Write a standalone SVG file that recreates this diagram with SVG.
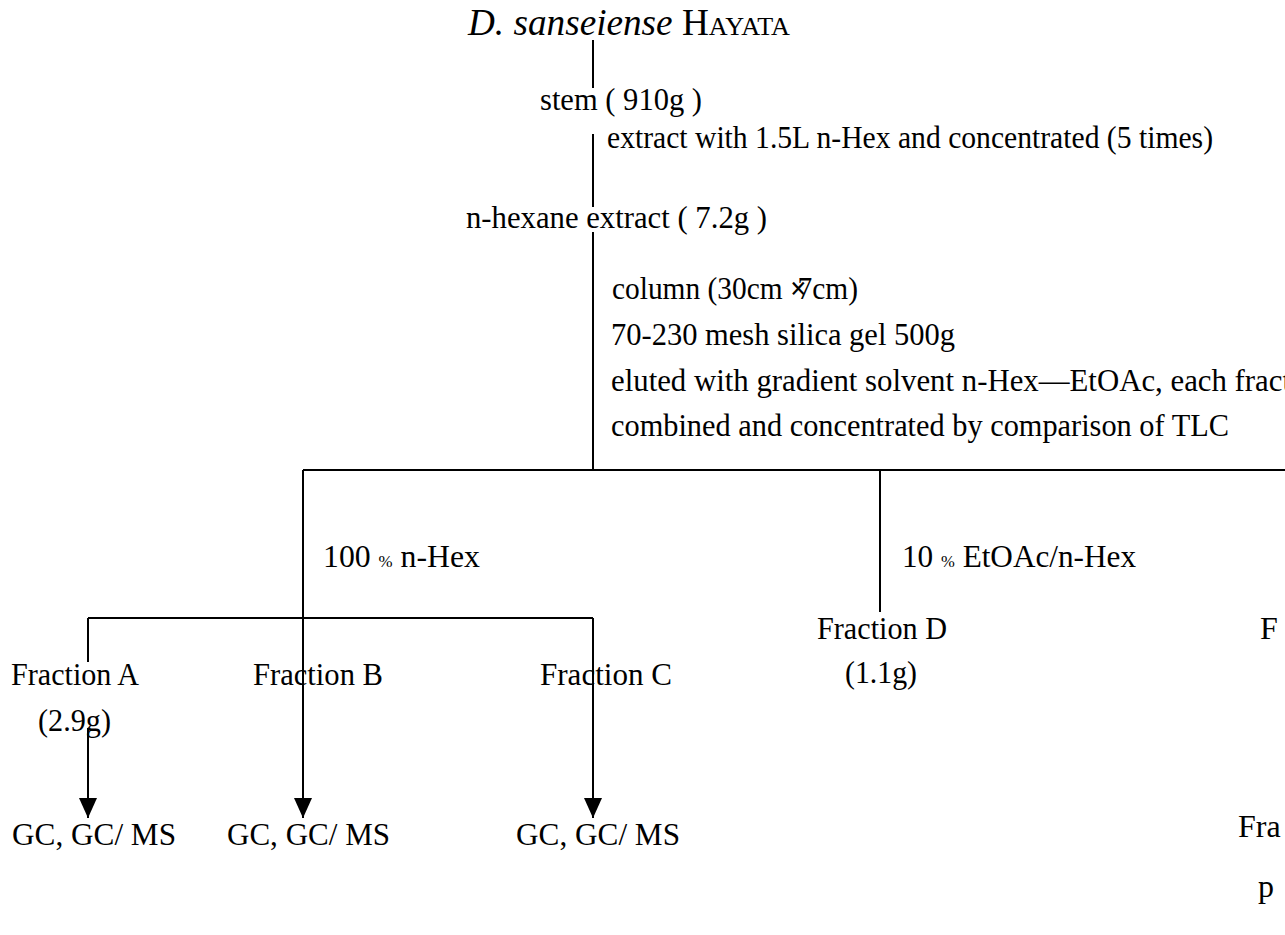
<svg xmlns="http://www.w3.org/2000/svg" width="1285" height="935" viewBox="0 0 1285 935">
  <style>
    text { font-family: "Liberation Serif", "Times New Roman", serif; font-size: 32px; fill: #000; }
    .title { font-size: 37px; }
    .it { font-style: italic; }
    .pct { font-size: 17px; }
    .ln { stroke: #000; stroke-width: 2; fill: none; }
  </style>
  <defs>
    <marker id="arrow" viewBox="0 0 20 20" refX="20" refY="10" markerWidth="20" markerHeight="20" markerUnits="userSpaceOnUse" orient="auto">
      <path d="M0,1 L20,10 L0,19 Z" fill="#000"/>
    </marker>
  </defs>

  <!-- connectors -->
  <g id="connectors" class="ln">
    <line x1="593" y1="40" x2="593" y2="88"/>
    <line x1="593" y1="134" x2="593" y2="207"/>
    <line x1="593" y1="232" x2="593" y2="470"/>
    <line x1="303" y1="470" x2="1285" y2="470"/>
    <line x1="880" y1="470" x2="880" y2="612"/>
    <line x1="303" y1="470" x2="303" y2="618"/>
    <line x1="88" y1="618" x2="593" y2="618"/>
    <line x1="88" y1="618" x2="88" y2="662"/>
    <line x1="88" y1="728" x2="88" y2="818" marker-end="url(#arrow)"/>
    <line x1="303" y1="618" x2="303" y2="818" marker-end="url(#arrow)"/>
    <line x1="593" y1="618" x2="593" y2="818" marker-end="url(#arrow)"/>
  </g>

  <!-- plant material and extraction -->
  <g id="plant">
    <text class="title" x="468" y="35" textLength="322" lengthAdjust="spacingAndGlyphs"><tspan class="it">D. sanseiense</tspan> H<tspan font-size="26">AYATA</tspan></text>
  </g>
  <g id="stem">
    <text x="540" y="110" textLength="162" lengthAdjust="spacingAndGlyphs">stem ( 910g )</text>
  </g>
  <g id="extraction-step">
    <text x="607" y="148" textLength="606" lengthAdjust="spacingAndGlyphs">extract with 1.5L n-Hex and concentrated (5 times)</text>
  </g>
  <g id="hexane-extract">
    <text x="466" y="228" textLength="301" lengthAdjust="spacingAndGlyphs">n-hexane extract ( 7.2g )</text>
  </g>
  <g id="column-step">
    <text x="612" y="299" textLength="246" lengthAdjust="spacingAndGlyphs">column (30cm <tspan font-weight="bold">×</tspan><tspan dx="-10">7</tspan>cm)</text>
    <text x="611" y="345" textLength="344" lengthAdjust="spacingAndGlyphs">70-230 mesh silica gel 500g</text>
    <text x="611" y="391" textLength="680" lengthAdjust="spacingAndGlyphs">eluted with gradient solvent n-Hex—EtOAc, each fract</text>
    <text x="611" y="436" textLength="618" lengthAdjust="spacingAndGlyphs">combined and concentrated by comparison of TLC</text>
  </g>

  <!-- eluent labels -->
  <g id="eluent-hex">
    <text x="323" y="567" textLength="157" lengthAdjust="spacingAndGlyphs">100 <tspan class="pct">%</tspan> n-Hex</text>
  </g>
  <g id="eluent-etoac">
    <text x="902" y="567" textLength="234" lengthAdjust="spacingAndGlyphs">10 <tspan class="pct">%</tspan> EtOAc/n-Hex</text>
  </g>

  <!-- fractions -->
  <g id="fraction-a">
    <text x="11" y="685" textLength="128" lengthAdjust="spacingAndGlyphs">Fraction A</text>
    <text x="38" y="731" textLength="73" lengthAdjust="spacingAndGlyphs">(2.9g)</text>
  </g>
  <g id="fraction-b">
    <text x="253" y="685" textLength="130" lengthAdjust="spacingAndGlyphs">Fraction B</text>
  </g>
  <g id="fraction-c">
    <text x="540" y="685" textLength="132" lengthAdjust="spacingAndGlyphs">Fraction C</text>
  </g>
  <g id="fraction-d">
    <text x="817" y="639" textLength="130" lengthAdjust="spacingAndGlyphs">Fraction D</text>
    <text x="845" y="683" textLength="72" lengthAdjust="spacingAndGlyphs">(1.1g)</text>
  </g>
  <g id="fraction-e">
    <text x="1260" y="639">F</text>
  </g>

  <!-- analyses -->
  <g id="gc-a">
    <text x="12" y="845" textLength="164" lengthAdjust="spacingAndGlyphs">GC, GC/ MS</text>
  </g>
  <g id="gc-b">
    <text x="227" y="845" textLength="163" lengthAdjust="spacingAndGlyphs">GC, GC/ MS</text>
  </g>
  <g id="gc-c">
    <text x="516" y="845" textLength="164" lengthAdjust="spacingAndGlyphs">GC, GC/ MS</text>
  </g>
  <g id="fraction-right">
    <text x="1238" y="837">Fra</text>
  </g>
  <g id="right-bottom">
    <text x="1258" y="897">p</text>
  </g>
</svg>
